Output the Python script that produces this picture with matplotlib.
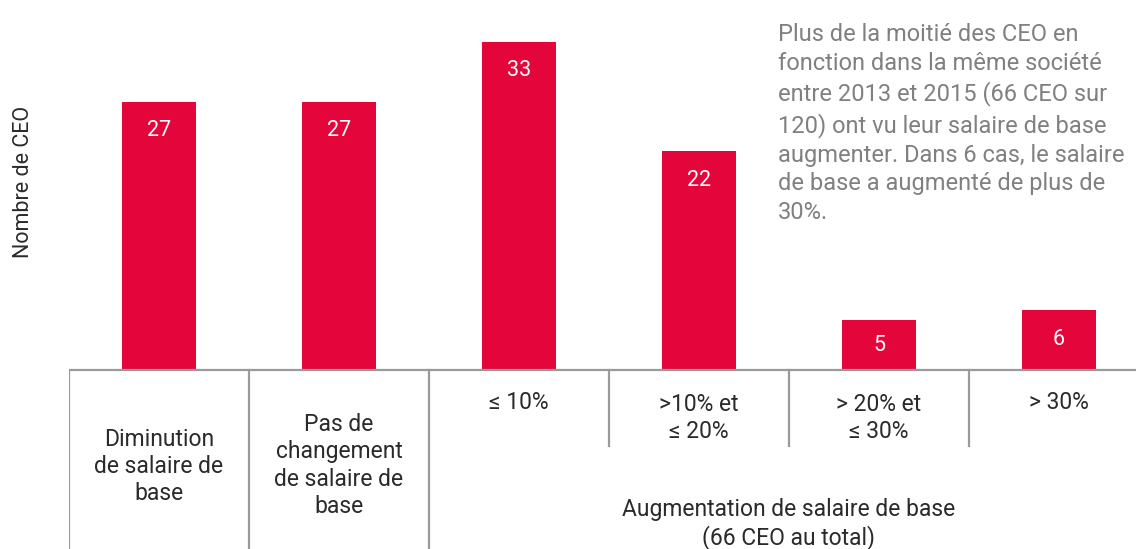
import matplotlib
matplotlib.use("Agg")
import matplotlib.pyplot as plt

# data
categories = ["Diminution\nde salaire de\nbase",
              "Pas de\nchangement\nde salaire de\nbase",
              "\u2264 10%", ">10% et\n\u2264 20%", "> 20% et\n\u2264 30%", "> 30%"]
values = [27, 27, 33, 22, 5, 6]
group_label = "Augmentation de salaire de base\n(66 CEO au total)"
ylabel = "Nombre de CEO"
note = ("Plus de la moitié des CEO en\nfonction dans la même société\n"
        "entre 2013 et 2015 (66 CEO sur\n120) ont vu leur salaire de base\n"
        "augmenter. Dans 6 cas, le salaire\nde base a augmenté de plus de\n30%.")

RED = "#E4063A"
INK = "#2a2a2a"
GREY = "#808080"
LINE = "#9a9a9a"
FONT = "Roboto"

W, H = 1136, 549
fig = plt.figure(figsize=(W / 100, H / 100), dpi=100, facecolor="white")
# axes spans the full height; y=0 sits at pixel row 370, 9.94 px per unit
x0 = 69
ax = fig.add_axes([x0 / W, 0, 1 - x0 / W, 1])
px_unit = 9.94
ax.set_ylim(-(H - 370) / px_unit, 370 / px_unit)
ax.set_xlim(-0.5, (W - x0) / 180 - 0.5)
ax.axis("off")

xs = list(range(len(values)))
ax.bar(xs, values, width=0.41, color=RED, zorder=2)
for x, v in zip(xs, values):
    ax.text(x, v - min(2.9, v / 2), str(v), ha="center", va="center",
            color="white", fontsize=15.5, family=FONT)

# table lines
ybot = -(H - 370) / px_unit
ymid = -(446 - 370) / px_unit
ax.plot([-0.5, 10], [0, 0], color=LINE, lw=1.6, zorder=3)
for xl in (-0.5, 0.5, 1.5):
    ax.plot([xl, xl], [0, ybot], color=LINE, lw=1.6, zorder=3)
for xl in (2.5, 3.5, 4.5):
    ax.plot([xl, xl], [0, ymid], color=LINE, lw=1.6, zorder=3)

label_y = [-9.7, -9.6, -3.3, -4.8, -4.8, -3.3]
for x, lab, ly in zip(xs, categories, label_y):
    ax.text(x, ly, lab, ha="center", va="center", color=INK,
            fontsize=16.5, family=FONT, linespacing=1.24)
ax.text(3.5, -15.5, group_label, ha="center", va="center", color=INK,
        fontsize=16.5, family=FONT, linespacing=1.24)

fig.text(24 / W, 1 - 182 / H, ylabel, rotation=90, ha="center", va="center",
         color=INK, fontsize=15.5, family=FONT)
fig.text(778 / W, 1 - 23 / H, note, ha="left", va="top", color=GREY,
         fontsize=17, family=FONT, linespacing=1.33)

fig.savefig("out.png", dpi=100)
